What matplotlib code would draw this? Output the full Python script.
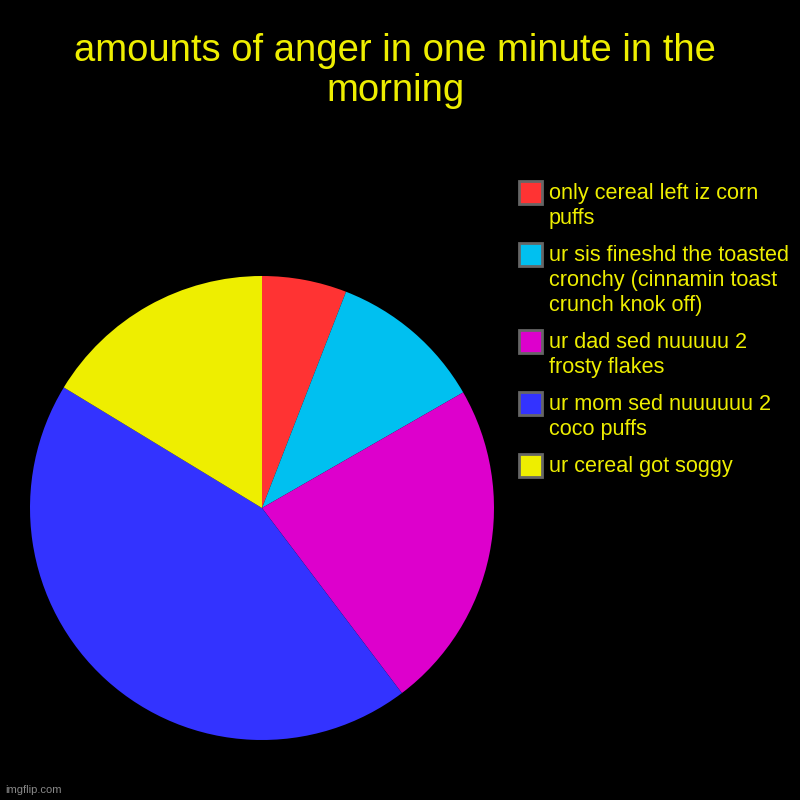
import matplotlib.pyplot as plt
from matplotlib.patches import Rectangle

categories = [
    "only cereal left iz corn\npuffs",
    "ur sis fineshd the toasted\ncronchy (cinnamin toast\ncrunch knok off)",
    "ur dad sed nuuuuu 2\nfrosty flakes",
    "ur mom sed nuuuuuu 2\ncoco puffs",
    "ur cereal got soggy",
]
values = [5.9, 10.8, 23.0, 44.0, 16.3]
colors = ["#ff3333", "#00c0f0", "#dd00cc", "#3333ff", "#eeee00"]

text_color = "#eeee00"
plt.rcParams['font.family'] = ['Liberation Sans', 'DejaVu Sans']

W = 800.0
fig = plt.figure(figsize=(8, 8), dpi=100, facecolor="black")
ax = fig.add_axes([30 / W, 60 / W, 464 / W, 464 / W])
ax.set_facecolor("black")

wedges, _ = ax.pie(values, colors=colors, startangle=90, counterclock=False,
                   radius=1.0)
ax.set_aspect("equal")
ax.set_xlim(-1, 1)
ax.set_ylim(-1, 1)
ax.axis("off")

fig.text(0.494, 1 - 33 / W, "amounts of anger in one minute in the\nmorning",
         ha="center", va="top", fontsize=27.5, color=text_color,
         linespacing=1.14)

# legend drawn by hand so the swatch lines up with the first text line
line_h = 25
gap = 12
y = 180
for label, col in zip(categories, colors):
    fig.patches.append(Rectangle((519 / W, 1 - (y + 24) / W), 23 / W, 23 / W,
                                 transform=fig.transFigure, facecolor=col,
                                 edgecolor="#666666", linewidth=2))
    fig.text(549 / W, 1 - (y + 3) / W, label, ha="left", va="top",
             fontsize=15.6, color=text_color, linespacing=1.24)
    y += line_h * (label.count("\n") + 1) + gap

fig.text(5 / W, 5 / W, "imgflip.com", color="#888888", fontsize=8,
         ha="left", va="bottom")

fig.savefig("out.png", dpi=100, facecolor="black")
